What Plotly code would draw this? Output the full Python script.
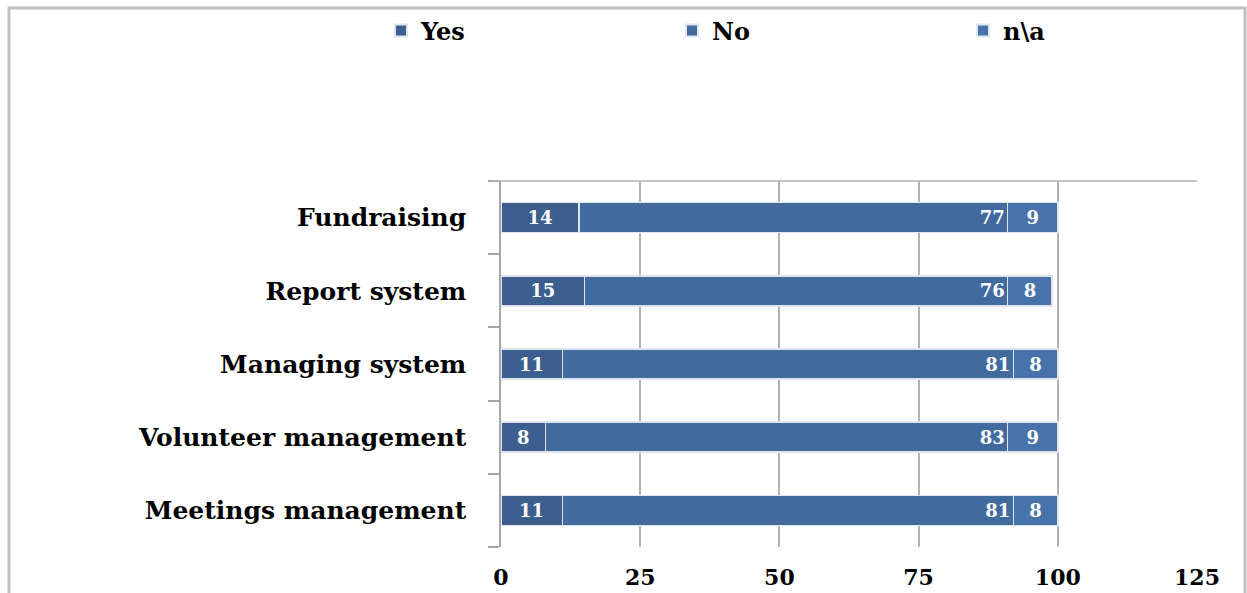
import plotly.graph_objects as go

# Survey answers per management area (percent)
categories = ["Meetings management", "Volunteer management", "Managing system",
              "Report system", "Fundraising"]
yes_vals = [11, 8, 11, 15, 14]
no_vals = [81, 83, 81, 76, 77]
na_vals = [8, 9, 8, 8, 9]
x_ticks = [0, 25, 50, 75, 100, 125]

W, H = 1247, 593
L, R, T, B = 501, 50, 181, 46
plot_w = W - L - R
plot_h = H - T - B

serif = "DejaVu Serif"
label_font = dict(family=serif, size=18, color="white", weight="bold")
edge = dict(color="#dfe5ee", width=1.5)

fig = go.Figure()
fig.add_trace(go.Bar(
    y=categories, x=yes_vals, name="Yes", orientation="h",
    marker=dict(color="#3c5f8f", line=edge),
    text=yes_vals, textposition="inside", insidetextanchor="middle",
    textfont=label_font,
))
fig.add_trace(go.Bar(
    y=categories, x=no_vals, name="No", orientation="h",
    marker=dict(color="#416a9f", line=edge),
    text=no_vals, textposition="inside", insidetextanchor="end",
    textfont=label_font,
))
fig.add_trace(go.Bar(
    y=categories, x=na_vals, name="n\\a", orientation="h",
    marker=dict(color="#4873aa", line=edge),
    text=na_vals, textposition="inside", insidetextanchor="middle",
    textfont=label_font,
))

def px_x(px):
    return (px - L) / plot_w

def px_y(py):
    return (H - B - py) / plot_h

fig.update_layout(
    width=W, height=H,
    barmode="stack", bargap=0.59,
    margin=dict(l=L, r=R, t=T, b=B, autoexpand=False),
    paper_bgcolor="white", plot_bgcolor="white",
    showlegend=True,
    legend=dict(
        orientation="h", x=px_x(381), y=px_y(31),
        xanchor="left", yanchor="middle",
        font=dict(family=serif, size=24, color="black", weight="bold"),
        entrywidth=246, entrywidthmode="pixels",
        itemsizing="constant", traceorder="normal",
        bgcolor="rgba(0,0,0,0)",
    ),
    xaxis=dict(
        range=[0, 125], tickvals=x_ticks, ticktext=[str(v) for v in x_ticks],
        showgrid=True, gridcolor="#b3b3b3", gridwidth=1.5,
        zeroline=False, showline=False, ticks="",
        tickfont=dict(family=serif, size=22, color="black", weight="bold"),
        ticklabelstandoff=15, automargin=False,
    ),
    yaxis=dict(
        categoryorder="array", categoryarray=categories,
        showline=True, linecolor="#a6a6a6", linewidth=1.5,
        ticks="outside", tickson="boundaries", ticklen=11,
        tickcolor="#a6a6a6", tickwidth=1.5,
        showgrid=False, automargin=False,
        tickfont=dict(family=serif, size=25, color="black", weight="bold"),
        ticklabelstandoff=28,
    ),
    shapes=[
        # outer chart frame
        dict(type="rect", xref="paper", yref="paper",
             x0=px_x(9), x1=px_x(1245), y0=px_y(620), y1=px_y(8),
             line=dict(color="#c0c0c0", width=3), layer="below"),
        # top edge of the plotting area
        dict(type="line", xref="paper", yref="paper",
             x0=px_x(490), x1=1, y0=1, y1=1,
             line=dict(color="#b3b3b3", width=1.5)),
    ],
)

fig.write_html("out.html")
